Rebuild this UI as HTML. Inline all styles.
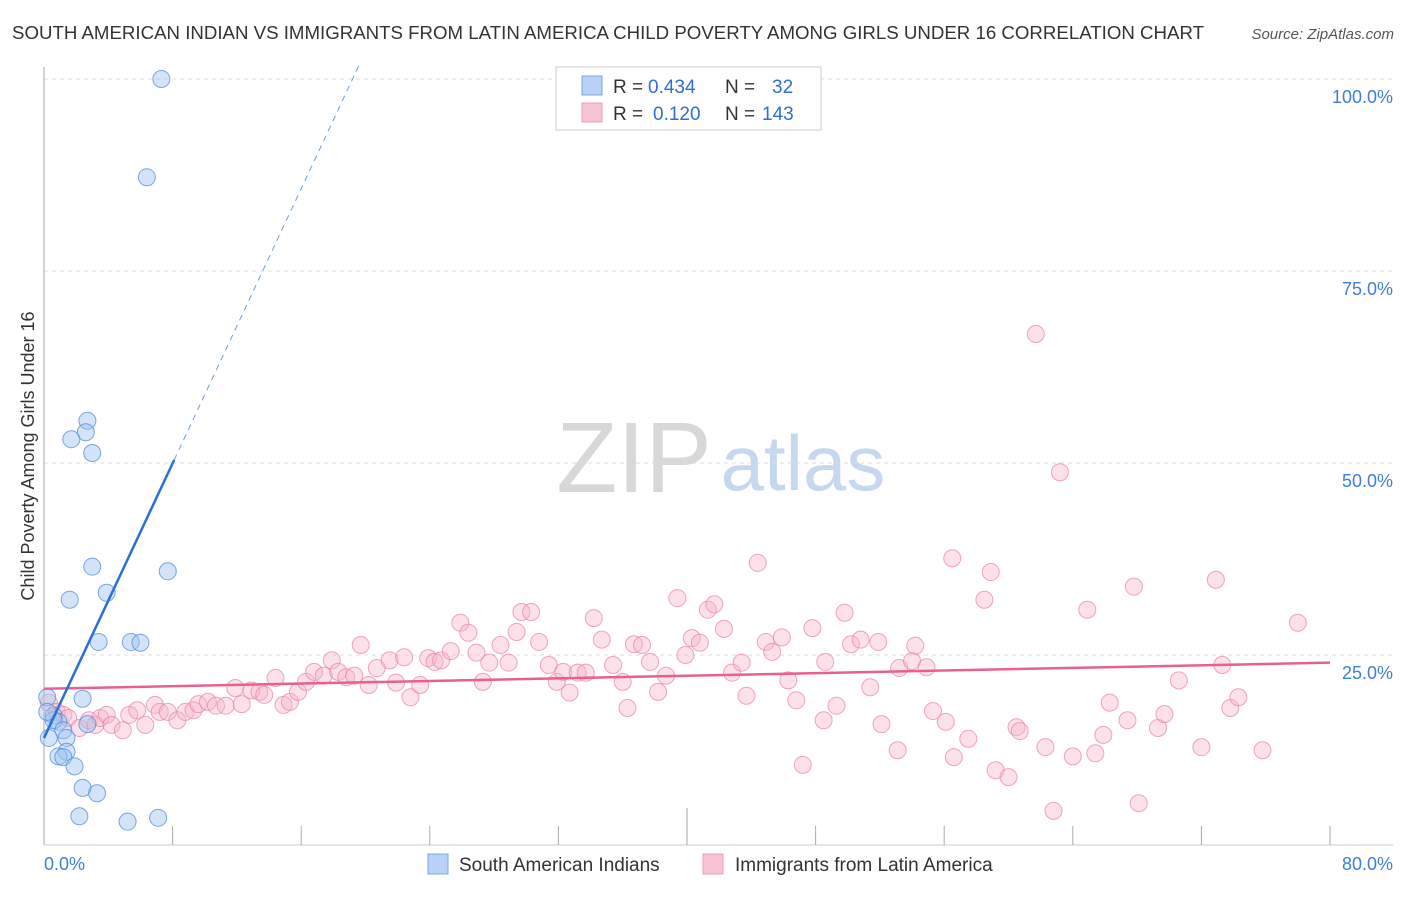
<!DOCTYPE html>
<html><head><meta charset="utf-8"><style>
body{margin:0;background:#fff;font-family:"Liberation Sans",sans-serif}
svg text{font-family:"Liberation Sans",sans-serif}
</style></head><body>
<svg id="chart" width="1406" height="892" xmlns="http://www.w3.org/2000/svg">
<text x="12" y="39" font-size="18" fill="#333" textLength="1192" lengthAdjust="spacingAndGlyphs">SOUTH AMERICAN INDIAN VS IMMIGRANTS FROM LATIN AMERICA CHILD POVERTY AMONG GIRLS UNDER 16 CORRELATION CHART</text>
<text x="1394" y="39" font-size="15" fill="#555" font-style="italic" text-anchor="end">Source: ZipAtlas.com</text>
<g>
<text x="634" y="492" font-size="100" fill="#d8d8d8" font-family="Liberation Serif,serif" text-anchor="middle">ZIP</text>
<text x="803" y="490" font-size="78" fill="#c5d8ef" text-anchor="middle">atlas</text>
</g>
<g id="grid"></g>
<g id="axes"></g>
<g id="marks"></g>
<text transform="translate(34,456) rotate(-90)" font-size="18" fill="#333" text-anchor="middle">Child Poverty Among Girls Under 16</text>
<g>
<rect x="556" y="67" width="265" height="63" fill="#fff" stroke="#ccc"/>
<rect x="582" y="76" width="20" height="19" fill="#b7d2f4" stroke="#7aa8e4"/>
<text x="613" y="93" font-size="19" fill="#333">R =</text>
<text x="648" y="93" font-size="19" fill="#2f6fd0">0.434</text>
<text x="725" y="93" font-size="19" fill="#333">N =</text>
<text x="772" y="93" font-size="19" fill="#2f6fd0">32</text>
<rect x="582" y="103" width="20" height="19" fill="#f8c4d4" stroke="#eba0ba"/>
<text x="613" y="120" font-size="19" fill="#333">R =</text>
<text x="653" y="120" font-size="19" fill="#2f6fd0">0.120</text>
<text x="725" y="120" font-size="19" fill="#333">N =</text>
<text x="762" y="120" font-size="19" fill="#2f6fd0">143</text>
</g>
<g>
<rect x="428" y="854" width="20" height="20" fill="#b7d2f4" stroke="#7aa8e4"/>
<text x="459" y="871" font-size="19" fill="#333">South American Indians</text>
<rect x="703" y="854" width="20" height="20" fill="#f8c4d4" stroke="#eba0ba"/>
<text x="735" y="871" font-size="19" fill="#333">Immigrants from Latin America</text>
</g>
</svg>
<script>
const yTicks=[25,50,75,100];
const yTickLabels=["25.0%","50.0%","75.0%","100.0%"];
const blueX=[7.3,6.4,2.7,2.6,1.7,3.0,3.0,1.6,3.9,7.7,3.4,5.4,6.0,2.4,0.2,0.6,0.9,0.6,1.2,1.4,0.3,2.7,1.4,0.9,1.2,1.9,2.4,3.3,2.2,5.2,7.1,0.2];
const blueY=[100,87.2,55.5,54.0,53.1,51.3,36.5,32.2,33.1,35.9,26.7,26.7,26.6,19.3,19.5,17.1,16.3,16.5,15.2,14.2,14.2,16.0,12.4,11.8,11.7,10.5,7.7,7.0,4.0,3.3,3.8,17.6];
const pinkX=[0.3,0.8,1.2,1.5,2.2,2.8,3.2,3.5,3.9,4.2,4.9,5.3,5.8,6.3,6.9,7.2,7.7,8.3,8.8,9.3,9.6,10.2,10.7,11.3,11.9,12.3,12.9,13.4,13.7,14.4,14.9,15.3,15.8,16.3,16.8,17.4,17.9,18.3,18.8,19.3,19.7,20.2,20.7,21.5,21.9,22.4,22.8,23.4,23.9,24.3,24.7,25.3,25.9,26.4,26.9,27.3,27.7,28.4,28.9,29.4,29.7,30.3,30.8,31.4,31.9,32.3,32.7,33.2,33.7,34.2,34.7,35.4,36.0,36.3,36.7,37.2,37.7,38.2,38.7,39.4,39.9,40.3,40.8,41.3,41.7,42.3,42.8,43.4,43.7,44.4,44.9,45.3,45.9,46.3,46.8,47.2,47.8,48.5,48.6,49.3,49.8,50.2,50.8,51.4,51.9,52.1,53.1,53.2,54.0,54.2,54.9,55.3,56.1,56.5,56.6,57.5,58.5,58.9,59.2,60.0,60.5,60.7,61.7,62.3,62.8,63.2,64.0,64.9,65.4,65.9,66.3,67.4,67.8,68.1,69.3,69.7,70.6,72.0,72.9,73.3,73.8,74.3,75.8,78.0];
const pinkY=[18.8,17.6,17.2,16.8,15.5,16.5,15.9,16.8,17.2,15.9,15.2,17.2,17.8,15.9,18.5,17.6,17.6,16.5,17.6,17.8,18.6,18.9,18.4,18.4,20.7,18.6,20.4,20.2,19.8,22.0,18.5,18.9,20.2,21.5,22.8,22.3,24.3,22.8,22.1,22.3,26.3,21.1,23.3,24.3,21.4,24.7,19.5,21.1,24.6,24.1,24.3,25.5,29.2,27.9,25.3,21.5,24.0,26.3,24.0,28.0,30.6,30.6,26.7,23.7,21.5,22.8,20.1,22.7,22.7,29.8,27.0,23.7,21.5,18.1,26.4,26.3,24.1,20.2,22.3,32.4,25.0,27.2,26.6,30.9,31.6,28.4,22.7,24.0,19.7,37.0,26.7,25.4,27.3,21.7,19.1,10.7,28.5,16.5,24.1,18.4,30.5,26.4,27.0,20.8,26.7,16.0,12.6,23.3,24.2,26.2,23.4,17.7,16.3,37.6,11.7,14.1,32.2,35.8,10.0,9.1,15.6,15.1,66.8,13.0,4.7,48.8,11.8,30.9,12.2,14.6,18.8,16.5,33.9,5.7,15.5,17.3,21.7,13.0,34.8,23.7,18.1,19.5,12.6,29.2];
const blueTrend=[14.2,4.47]; // intercept, slope
const pinkTrend=[20.6,0.0425];

const NS="http://www.w3.org/2000/svg";
const X0=44,XW=1286,XMAX=80,Y0=847,YH=768;
function sx(v){return X0+v/XMAX*XW;}
function sy(v){return Y0-v/100*YH;}
function mk(tag,attrs,parent){const e=document.createElementNS(NS,tag);for(const k in attrs)e.setAttribute(k,attrs[k]);document.getElementById(parent).appendChild(e);return e;}

yTicks.forEach((t,i)=>{
  const l=mk('line',{x1:44,x2:1393,y1:sy(t),y2:sy(t),stroke:'#ddd','stroke-dasharray':'4,4'},'grid');
  
  
  const tx=mk('text',{x:1393,y:sy(t)+24,'font-size':18,fill:'#3d7fd9','text-anchor':'end'},'grid');
  tx.textContent=yTickLabels[i];
  
  
});
let a=mk('line',{x1:44,x2:44,y1:67,y2:845,stroke:'#aaa'},'axes');


a=mk('line',{x1:44,x2:1393,y1:845,y2:845,stroke:'#ccc'},'axes');


for(let i=1;i<=10;i++){
  const t=mk('line',{x1:sx(i*8),x2:sx(i*8),y1:i==5?808:826,y2:845,stroke:'#aaa'},'axes');
  
  
}
let t1=mk('text',{x:44,y:870,'font-size':18,fill:'#3d7fd9'},'axes');t1.textContent='0.0%';


t1=mk('text',{x:1393,y:870,'font-size':18,fill:'#3d7fd9','text-anchor':'end'},'axes');t1.textContent='80.0%';



pinkX.forEach((x,i)=>{
  const c=mk('circle',{cx:sx(x),cy:sy(pinkY[i]),r:8.5,fill:'rgba(248,180,202,0.4)',stroke:'rgba(232,130,165,0.7)','stroke-width':1},'marks');
  
  
});
blueX.forEach((x,i)=>{
  const c=mk('circle',{cx:sx(x),cy:sy(blueY[i]),r:8.5,fill:'rgba(160,196,240,0.45)',stroke:'rgba(80,140,220,0.75)','stroke-width':1},'marks');
  
  
});
let ln=mk('line',{x1:sx(0),y1:sy(pinkTrend[0]),x2:sx(80),y2:sy(pinkTrend[0]+pinkTrend[1]*80),stroke:'#e8608e','stroke-width':2.5},'marks');


ln=mk('line',{x1:sx(0),y1:sy(blueTrend[0]),x2:sx(8.1),y2:sy(blueTrend[0]+blueTrend[1]*8.1),stroke:'#2a6fd6','stroke-width':2.5},'marks');


const xEnd=(100-blueTrend[0])/blueTrend[1]+0.5;
ln=mk('line',{x1:sx(8.1),y1:sy(blueTrend[0]+blueTrend[1]*8.1),x2:sx(xEnd),y2:sy(blueTrend[0]+blueTrend[1]*xEnd),stroke:'#6a9fe0','stroke-width':1,'stroke-dasharray':'6,5'},'marks');


</script>
</body></html>
